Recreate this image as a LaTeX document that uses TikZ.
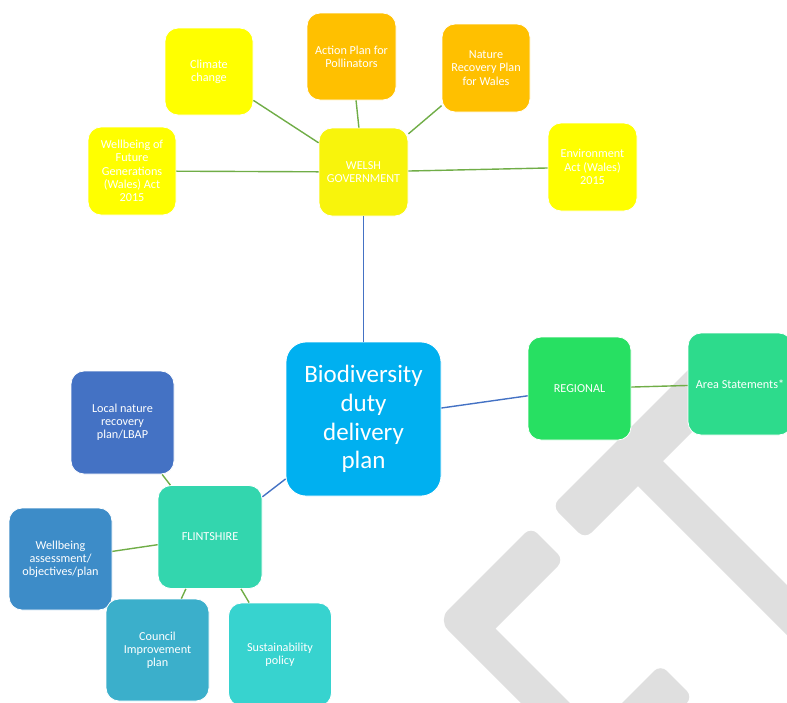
\documentclass[tikz,border=0pt]{standalone}
\usepackage{fontspec}
\setmainfont{Carlito}
\definecolor{cyel}{HTML}{FFFF00}
\definecolor{wgyel}{HTML}{F8F40C}
\definecolor{corange}{HTML}{FFC000}
\definecolor{cbio}{HTML}{00B0F0}
\definecolor{creg}{HTML}{27E062}
\definecolor{carea}{HTML}{2DDB8C}
\definecolor{clnr}{HTML}{4472C4}
\definecolor{cflint}{HTML}{33D6AE}
\definecolor{cwba}{HTML}{3D8CC8}
\definecolor{ccip}{HTML}{3BAFCB}
\definecolor{csus}{HTML}{37D3CF}
\definecolor{lgreen}{HTML}{70AD47}
\definecolor{lblue}{HTML}{4472C4}
\definecolor{wmgrey}{HTML}{DFDFDF}
\begin{document}
\begin{tikzpicture}[x=1pt,y=-1pt,
  box/.style={draw=white, line width=0.8pt, rounded corners=13pt, text=white,
    align=center, font=\fontsize{12.2}{13.2}\selectfont, inner sep=0pt},
  sz/.style 2 args={minimum width=#1pt, minimum height=#2pt},
  glink/.style={draw=lgreen, line width=1.4pt},
  blink/.style={draw=lblue, line width=1.4pt},
  wm/.style={fill=wmgrey, draw=none}]
\useasboundingbox (0,0) rectangle (787,702);
% watermark
\fill[wm] (718,340) [rounded corners=9pt] -- (552,506) -- (585,539) [sharp corners] -- (638,486)
  -- (800,648) -- (800,598) -- (663,461) -- (751,373) -- cycle;
\fill[wm] (484.5,573.5) [rounded corners=9pt] -- (531,527) -- (564,560) [sharp corners] -- (495.5,628.5)
  -- (577,710) -- (528,710) [rounded corners=14pt] -- (438,620) -- cycle;
\fill[wm] (615,710) [rounded corners=9pt] -- (660.5,664.5) -- (693,697) [sharp corners] -- (680,710) -- cycle;
% nodes
\node[box, fill=cyel, sz={88}{87}] (clim) at (209,71.5) {Climate\\change};
\node[box, fill=corange, sz={89}{87}] (actp) at (351.5,56.5) {Action Plan for\\Pollinators};
\node[box, fill=corange, sz={88}{88}] (natr) at (486,68) {Nature\\Recovery Plan\\for Wales};
\node[box, fill=cyel, sz={88}{88}] (wfg) at (132,171) {Wellbeing of\\Future\\Generations\\(Wales) Act\\2015};
\node[box, fill=wgyel, sz={89}{88}] (wg) at (363.5,172) {WELSH\\GOVERNMENT};
\node[box, fill=cyel, sz={89}{88}] (env) at (592.5,167) {Environment\\Act (Wales)\\2015};
\node[box, fill=cbio, sz={155}{154}, rounded corners=20pt, font=\fontsize{25}{28.7}\selectfont] (bio) at (363.5,419) {Biodiversity\\duty\\delivery\\plan};
\node[box, fill=creg, sz={103}{103}] (reg) at (579.5,388.5) {REGIONAL};
\node[box, fill=carea, sz={104}{102}] (area) at (740,384) {Area Statements*};
\node[box, fill=clnr, sz={103}{103}] (lnr) at (122.5,422.5) {Local nature\\recovery\\plan/LBAP};
\node[box, fill=cflint, sz={104}{103}] (flint) at (210,537) {FLINTSHIRE};
\node[box, fill=cwba, sz={103}{102}] (wba) at (60.5,559) {Wellbeing\\assessment/\\objectives/plan};
\node[box, fill=ccip, sz={103}{102}] (cip) at (157.5,650) {Council\\Improvement\\plan};
\node[box, fill=csus, sz={103}{103}] (sus) at (280,654.5) {Sustainability\\policy};
% connectors
\draw[glink] (wg) -- (clim);
\draw[glink] (wg) -- (actp);
\draw[glink] (wg) -- (natr);
\draw[glink] (wg) -- (wfg);
\draw[glink] (wg) -- (env);
\draw[blink] (wg) -- (bio);
\draw[blink] (bio) -- (reg);
\draw[glink] (reg) -- (area);
\draw[blink] (bio) -- (flint);
\draw[glink] (flint) -- (lnr);
\draw[glink] (flint) -- (wba);
\draw[glink] (flint) -- (cip);
\draw[glink] (flint) -- (sus);
\end{tikzpicture}
\end{document}
